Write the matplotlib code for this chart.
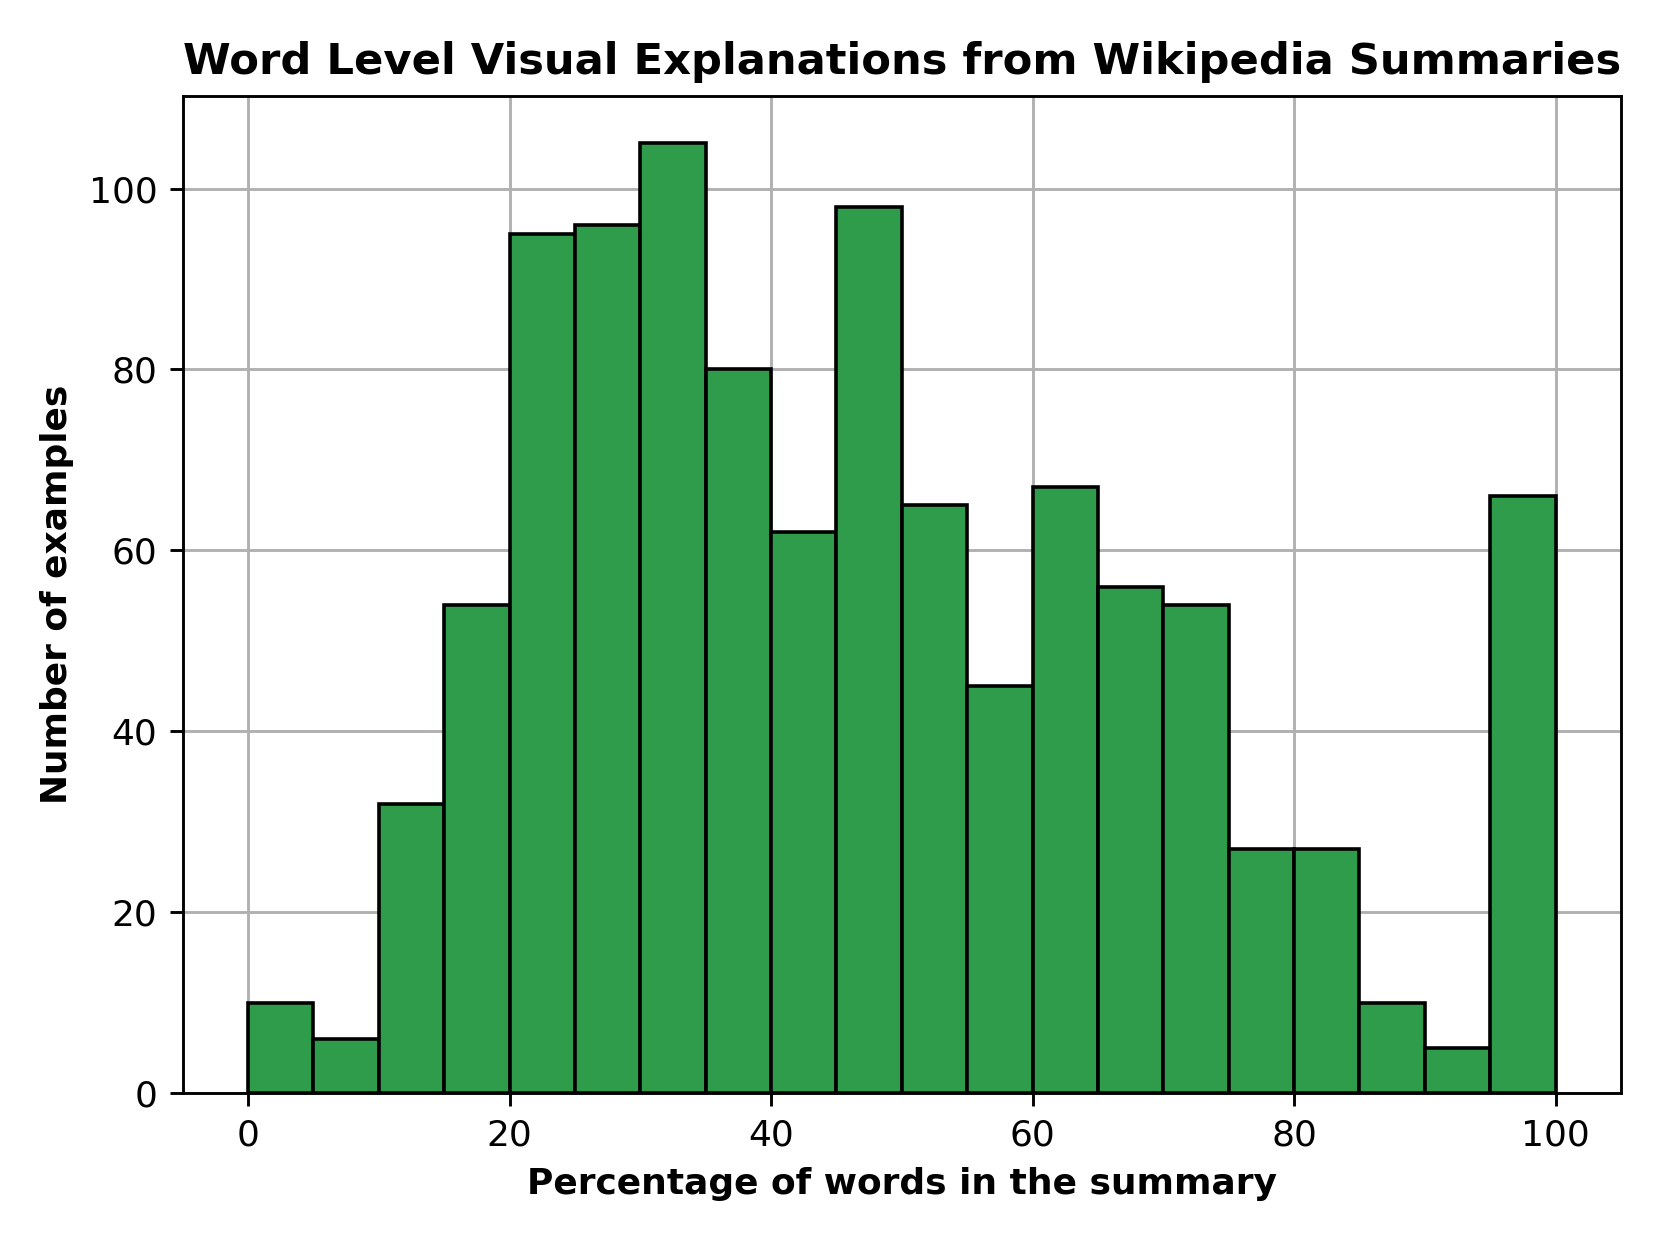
import numpy as np
import matplotlib
matplotlib.use("Agg")
import matplotlib.pyplot as plt

# histogram bin edges (percent) and counts per bin
bin_edges = np.arange(0, 105, 5)
counts = [10, 6, 32, 54, 95, 96, 105, 80, 62, 98,
          65, 45, 67, 56, 54, 27, 27, 10, 5, 66]


def main():
    fig = plt.figure(figsize=(6.4, 4.8), dpi=259.375)
    ax = fig.add_axes([0.110, 0.122, 0.8665, 0.801])

    ax.bar(bin_edges[:-1], counts, width=np.diff(bin_edges), align="edge",
           color="#2e9c4a", edgecolor="black", linewidth=1.0, zorder=3)

    ax.grid(True, color="#b0b0b0", linewidth=0.8, zorder=0)
    ax.set_axisbelow(True)
    ax.set_xlim(-5, 105)
    ax.set_ylim(0, 110.25)
    ax.set_xticks([0, 20, 40, 60, 80, 100])
    ax.set_yticks([0, 20, 40, 60, 80, 100])

    ax.set_xlabel("Percentage of words in the summary", fontweight="bold")
    ax.set_ylabel("Number of examples", fontweight="bold")
    ax.set_title("Word Level Visual Explanations from Wikipedia Summaries",
                 fontweight="bold", fontsize=12)

    fig.savefig("out.png")


if __name__ == '__main__':
    main()
